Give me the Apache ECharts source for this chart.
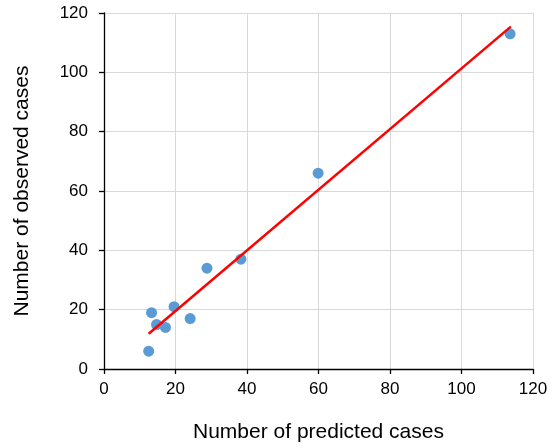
<!DOCTYPE html>
<html>
<head>
<meta charset="utf-8">
<script src="https://cdn.jsdelivr.net/npm/echarts@6/dist/echarts.min.js"></script>
<style>
html,body{margin:0;padding:0;background:#fff;}
#chart{width:555px;height:448px;}
</style>
</head>
<body>
<div id="chart"></div>
<script>
const predicted = [12.5, 13.3, 14.7, 17.2, 19.6, 24.1, 28.8, 38.3, 59.9, 113.6];
const observed  = [6, 19, 15, 14, 21, 17, 34, 37, 66, 113];
const fitX = [12.5, 113.8];
const fitY = [11.9, 115.4];
const xTitle = 'Number of predicted cases';
const yTitle = 'Number of observed cases';

const chart = echarts.init(document.getElementById('chart'));
const font = 'Liberation Sans, Arial, sans-serif';
chart.setOption({
  animation: false,
  grid: {left: 104, right: 22, top: 13, bottom: 75},
  xAxis: {
    type: 'value', min: 0, max: 120, interval: 20,
    name: xTitle, nameLocation: 'middle', nameGap: 53,
    nameTextStyle: {fontFamily: font, fontSize: 21, color: '#000'},
    axisLine: {show: true, onZero: false, lineStyle: {color: '#000', width: 1.3}},
    axisTick: {show: true, length: 5, lineStyle: {color: '#000', width: 1.3}},
    axisLabel: {fontFamily: font, fontSize: 17, color: '#000', margin: 12},
    splitLine: {show: true, lineStyle: {color: '#d9d9d9', width: 1}}
  },
  yAxis: {
    type: 'value', min: 0, max: 120, interval: 20,
    name: yTitle, nameLocation: 'middle', nameGap: 71,
    nameTextStyle: {fontFamily: font, fontSize: 21, color: '#000'},
    axisLine: {show: true, onZero: false, lineStyle: {color: '#000', width: 1.3}},
    axisTick: {show: true, length: 5, lineStyle: {color: '#000', width: 1.3}},
    axisLabel: {fontFamily: font, fontSize: 17, color: '#000', margin: 16},
    splitLine: {show: true, lineStyle: {color: '#d9d9d9', width: 1}}
  },
  series: [
    {
      type: 'scatter',
      data: predicted.map((x, i) => [x, observed[i]]),
      symbolSize: 11,
      itemStyle: {color: '#5b9bd5', opacity: 1},
      z: 2
    },
    {
      type: 'line',
      data: fitX.map((x, i) => [x, fitY[i]]),
      showSymbol: false,
      symbol: 'none',
      lineStyle: {color: '#ff0000', width: 2.5},
      z: 3
    }
  ]
});
</script>
</body>
</html>
